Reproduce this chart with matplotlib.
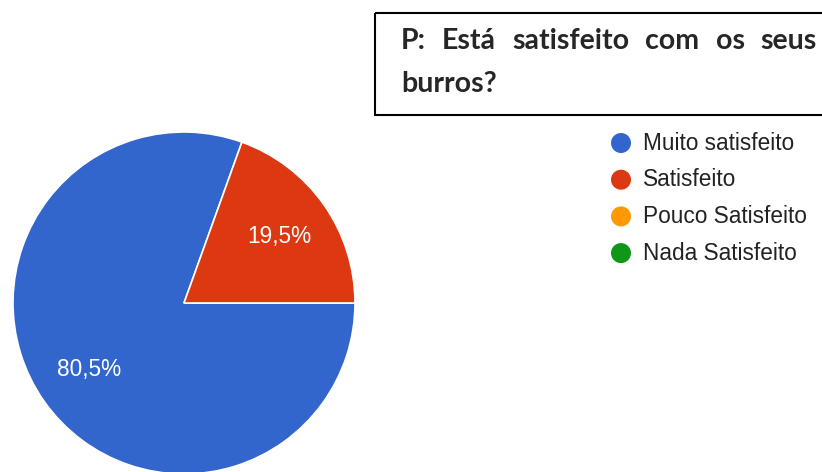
import matplotlib.pyplot as plt
import numpy as np
from matplotlib.patches import Circle, Rectangle

# survey answers (percent of respondents)
categories = ["Muito satisfeito", "Satisfeito", "Pouco Satisfeito", "Nada Satisfeito"]
shares = [80.5, 19.5, 0.0, 0.0]
colors = ["#3366cc", "#dc3912", "#ff9900", "#109618"]
pct_labels = ["80,5%", "19,5%", "", ""]
question_line1 = ["P:", "Está", "satisfeito", "com", "os", "seus"]
question_line2 = "burros?"

W, H = 822, 472
fig = plt.figure(figsize=(W / 100, H / 100), dpi=100)

# pie axes, placed in pixels: centre (184, 303), radius 171
cx, cy, r = 184, 303, 171
ax = fig.add_axes([(cx - r) / W, (H - cy - r) / H, 2 * r / W, 2 * r / H])
nonzero = [i for i, s in enumerate(shares) if s > 0]
wedges, _ = ax.pie([shares[i] for i in nonzero], colors=[colors[i] for i in nonzero],
                   startangle=0, counterclock=False, radius=1,
                   wedgeprops=dict(edgecolor="white", linewidth=1.2))
# percentage labels inside the slices
for w, i in zip(wedges, nonzero):
    mid = np.deg2rad((w.theta1 + w.theta2) / 2)
    ax.text(0.68 * np.cos(mid), 0.68 * np.sin(mid), pct_labels[i], color="white",
            fontsize=16.3, family="Liberation Sans", ha="center", va="center")
ax.set_xlim(-1, 1)
ax.set_ylim(-1, 1)
ax.set_aspect("equal")
ax.axis("off")

# overlay in pixel coordinates for legend and question box
ov = fig.add_axes([0, 0, 1, 1])
ov.set_xlim(0, W)
ov.set_ylim(H, 0)
ov.axis("off")

for k, (lab, col) in enumerate(zip(categories, colors)):
    y = 143 + k * 36.7
    ov.add_patch(Circle((621, y), 10, color=col, lw=0))
    ov.text(643, y, lab, fontsize=16.3, family="Liberation Sans", color="#222222",
            ha="left", va="center")

ov.add_patch(Rectangle((375, 13), 460, 102, fill=False, edgecolor="black", lw=1.5))

tfont = dict(fontsize=20.5, family="Lato", weight="bold", color="#262626")
renderer = fig.canvas.get_renderer()
words = [ov.text(0, 49, w, va="baseline", ha="left", **tfont) for w in question_line1]
widths = [t.get_window_extent(renderer).width for t in words]
left, right = 401, 817
gap = (right - left - sum(widths)) / (len(words) - 1)
x = left
for t, wd in zip(words, widths):
    t.set_x(x)
    x += wd + gap
ov.text(left, 92, question_line2, va="baseline", ha="left", **tfont)

fig.savefig("out.png", dpi=100)
